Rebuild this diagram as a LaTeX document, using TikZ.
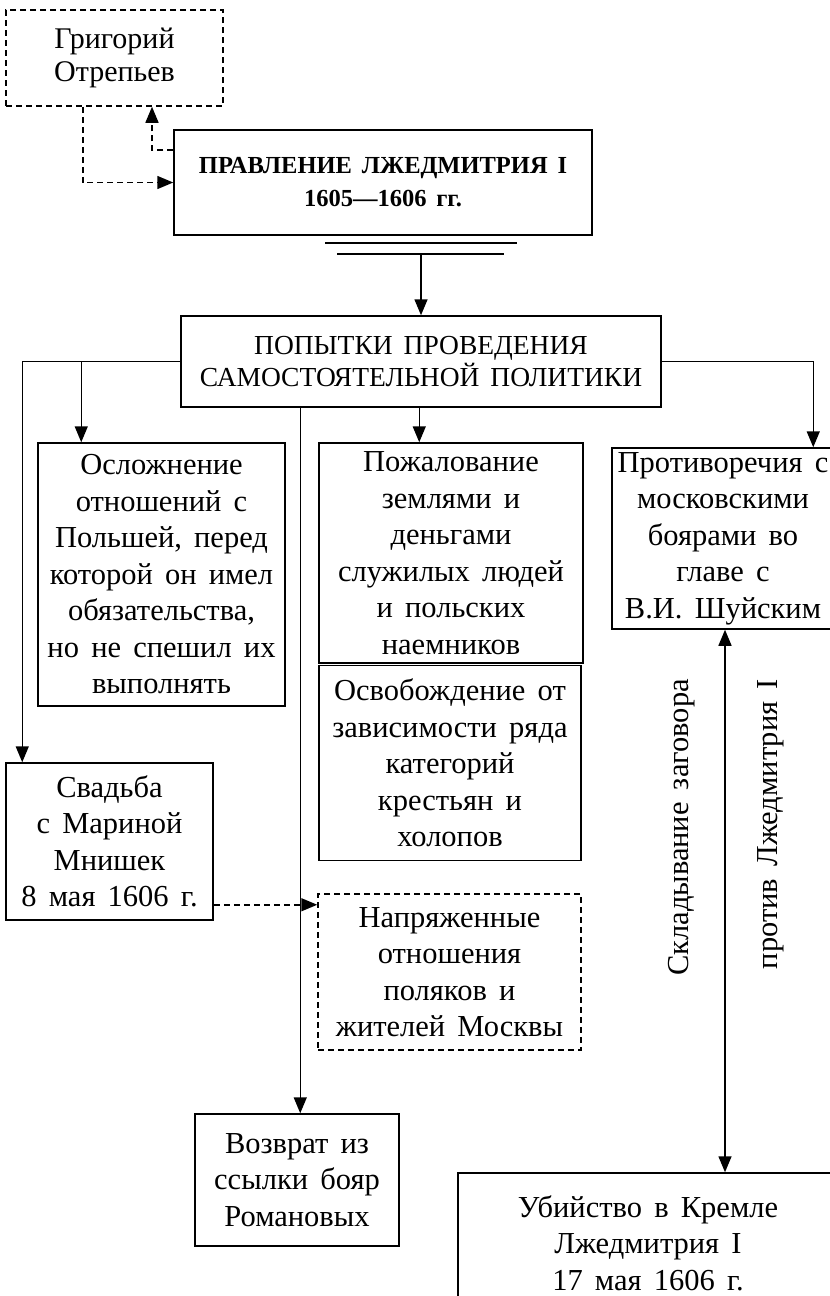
\documentclass[tikz,border=0pt]{standalone}
\usepackage{fontspec}
\setmainfont{Liberation Serif}[WordSpace={1.6}]
\usetikzlibrary{arrows.meta,calc}
\newcommand\boxfont{\fontsize{30.5}{36.5}\selectfont}
\begin{document}
\begin{tikzpicture}[x=1pt,y=-1pt,
  box/.style={draw, line width=1.5pt, align=center, inner sep=0pt, font=\boxfont},
  dbox/.style={box, dash pattern=on 6pt off 4pt},
  conn/.style={line width=1.5pt},
  arr/.style={conn, -{Triangle[length=16pt,width=13pt]}},
  darr/.style={conn, dash pattern=on 6pt off 4pt, -{Triangle[length=16pt,width=13pt]}},
  barr/.style={conn, {Triangle[length=16pt,width=13pt]}-{Triangle[length=16pt,width=13pt]}},
  vtext/.style={rotate=90, anchor=east, inner sep=0pt, font=\boxfont}]
\useasboundingbox (0,0) rectangle (830,1296);
\clip (0,0) rectangle (830,1296);

\node[dbox, minimum width=217, minimum height=96, font=\fontsize{30}{33}\selectfont] (grig) at (114.5,58) {Григорий\\Отрепьев};
\node[box, minimum width=418, minimum height=105, font=\fontsize{24.5}{33}\selectfont\bfseries] (title) at (383,182.5) {ПРАВЛЕНИЕ ЛЖЕДМИТРИЯ I\\1605—1606 гг.};
\node[box, minimum width=480, minimum height=91, font=\fontsize{27.5}{32}\selectfont] (popytki) at (421,361.5) {ПОПЫТКИ ПРОВЕДЕНИЯ\\САМОСТОЯТЕЛЬНОЙ ПОЛИТИКИ};
\node[box, minimum width=247, minimum height=263] (oslozh) at (161.5,574.5) {Осложнение\\отношений с\\Польшей, перед\\которой он имел\\обязательства,\\но не спешил их\\выполнять};
\node[box, minimum width=264, minimum height=220] (pozhal) at (451,553) {Пожалование\\землями и\\деньгами\\служилых людей\\и польских\\наемников};
\node[box, minimum width=262, minimum height=195] (osvob) at (450,763) {Освобождение от\\зависимости ряда\\категорий\\крестьян и\\холопов};
\node[box, minimum width=222, minimum height=181] (protiv) at (723,538.5) {Противоречия с\\московскими\\боярами во\\главе с\\В.И. Шуйским};
\node[box, minimum width=207, minimum height=157] (svadba) at (109.5,841.5) {Свадьба\\с Мариной\\Мнишек\\8 мая 1606 г.};
\node[dbox, minimum width=263, minimum height=156] (napr) at (449.5,972) {Напряженные\\отношения\\поляков и\\жителей Москвы};
\node[box, minimum width=204, minimum height=132] (vozvrat) at (297,1180) {Возврат из\\ссылки бояр\\Романовых};
\node[box, minimum width=380, minimum height=140] (ubiistvo) at (648,1243) {Убийство в Кремле\\Лжедмитрия I\\17 мая 1606 г.};

\node[vtext] (zagovor) at (682,679) {Складывание заговора};
\node[vtext] (protivL) at (771,679) {против Лжедмитрия I};

% Grigory links
\draw[darr] ([xshift=-31.5]grig.south) |- (title.west);
\draw[darr] ([yshift=32.5]title.west) -| ([xshift=37.5]grig.south);

% double line under the title
\coordinate (dbl) at (421,254);
\draw[conn] (325,243) -- (517,243);
\draw[conn] (337,254) -- (504,254);
\draw[arr] (dbl) -- (popytki.north);

% branches
\draw[arr] (popytki.west) -| ([xshift=17]svadba.north west);
\draw[arr] ([xshift=44]oslozh.north west |- popytki.west) -- ([xshift=44]oslozh.north west);
\draw[arr] ([xshift=106]vozvrat.north west |- popytki.south) -- ([xshift=106]vozvrat.north west);
\draw[arr] ([xshift=101]pozhal.north west |- popytki.south) -- ([xshift=101]pozhal.north west);
\draw[arr] (popytki.east) -| ([xshift=202]protiv.north west);
\draw[darr] ([yshift=16]svadba.south east) -- ([yshift=16]svadba.south east -| napr.west);
\draw[barr] ([xshift=2]protiv.south) -- ([xshift=2]protiv.south |- ubiistvo.north);
\end{tikzpicture}
\end{document}
